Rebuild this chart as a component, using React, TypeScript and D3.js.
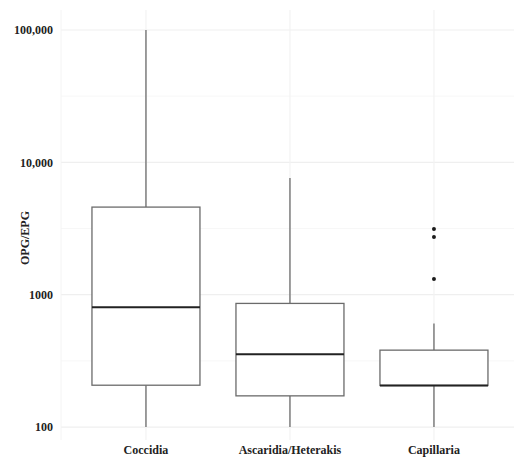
import { useRef, useEffect } from 'react';
import * as d3 from 'd3';

const categories = ['Coccidia', 'Ascaridia/Heterakis', 'Capillaria'];
const whiskerLow = [100, 100, 100];
const q1 = [207, 172, 206];
const medians = [802, 354, 206];
const q3 = [4590, 859, 381];
const whiskerHigh = [100000, 7610, 607];
const outliers = [[], [], [3130, 2725, 1312]];
const yTicks = [100, 1000, 10000, 100000];
const yTickLabels = ['100', '1000', '10,000', '100,000'];
const yMinor = [316.2, 3162, 31623];

export default function App() {
  const svgRef = useRef(null);
  const width = 514;
  const height = 457;

  useEffect(() => {
    const svg = d3.select(svgRef.current);
    svg.selectAll('*').remove();
    const margin = { top: 10, right: 0, bottom: 17, left: 61 };
    const font = '"Liberation Serif", "DejaVu Serif", serif';

    // discrete scale with ggplot-like 0.6 expansion on each side
    const step = 144;
    const x = d3
      .scalePoint()
      .domain(categories)
      .range([margin.left + step * 0.59, margin.left + step * 2.59]);
    const boxW = step * 0.75;

    const panelBottom = height - margin.bottom;
    const y = d3
      .scaleLog()
      .domain([Math.pow(10, 1.902), Math.pow(10, 5.151)])
      .range([panelBottom, margin.top]);

    // grid
    svg
      .append('g')
      .selectAll('line')
      .data(yMinor)
      .join('line')
      .attr('x1', margin.left)
      .attr('x2', width)
      .attr('y1', (d) => y(d))
      .attr('y2', (d) => y(d))
      .attr('stroke', '#f7f7f7')
      .attr('stroke-width', 1);

    svg
      .append('g')
      .selectAll('line')
      .data(yTicks)
      .join('line')
      .attr('x1', margin.left)
      .attr('x2', width)
      .attr('y1', (d) => y(d))
      .attr('y2', (d) => y(d))
      .attr('stroke', '#efefef')
      .attr('stroke-width', 1.2);

    svg
      .append('g')
      .selectAll('line')
      .data(categories)
      .join('line')
      .attr('x1', (d) => x(d))
      .attr('x2', (d) => x(d))
      .attr('y1', margin.top)
      .attr('y2', panelBottom)
      .attr('stroke', '#f2f2f2')
      .attr('stroke-width', 1.2);

    svg
      .append('line')
      .attr('x1', margin.left)
      .attr('x2', margin.left)
      .attr('y1', margin.top)
      .attr('y2', panelBottom)
      .attr('stroke', '#f4f4f4');

    // boxes
    const g = svg.append('g');
    categories.forEach((c, i) => {
      const xc = x(c);
      g.append('line')
        .attr('x1', xc)
        .attr('x2', xc)
        .attr('y1', y(q3[i]))
        .attr('y2', y(whiskerHigh[i]))
        .attr('stroke', '#6b6b6b')
        .attr('stroke-width', 1.3);
      g.append('line')
        .attr('x1', xc)
        .attr('x2', xc)
        .attr('y1', y(q1[i]))
        .attr('y2', y(whiskerLow[i]))
        .attr('stroke', '#6b6b6b')
        .attr('stroke-width', 1.3);
      g.append('rect')
        .attr('x', xc - boxW / 2)
        .attr('width', boxW)
        .attr('y', y(q3[i]))
        .attr('height', y(q1[i]) - y(q3[i]))
        .attr('fill', 'white')
        .attr('stroke', '#6b6b6b')
        .attr('stroke-width', 1.3);
      g.append('line')
        .attr('x1', xc - boxW / 2)
        .attr('x2', xc + boxW / 2)
        .attr('y1', y(medians[i]))
        .attr('y2', y(medians[i]))
        .attr('stroke', '#222')
        .attr('stroke-width', 2);
      g.selectAll(null)
        .data(outliers[i])
        .join('circle')
        .attr('cx', xc)
        .attr('cy', (d) => y(d))
        .attr('r', 2)
        .attr('fill', '#1a1a1a');
    });

    // y tick labels
    svg
      .append('g')
      .selectAll('text')
      .data(yTicks)
      .join('text')
      .attr('x', 53)
      .attr('y', (d) => y(d))
      .attr('dy', '0.35em')
      .attr('text-anchor', 'end')
      .style('font-family', font)
      .style('font-weight', 700)
      .style('font-size', '12px')
      .attr('fill', '#222')
      .text((d, i) => yTickLabels[i]);

    // x labels
    svg
      .append('g')
      .selectAll('text')
      .data(categories)
      .join('text')
      .attr('x', (d) => x(d))
      .attr('y', 454)
      .attr('text-anchor', 'middle')
      .style('font-family', font)
      .style('font-weight', 700)
      .style('font-size', '12px')
      .attr('fill', '#222')
      .text((d) => d);

    svg
      .append('text')
      .attr('transform', `translate(29,238) rotate(-90)`)
      .attr('text-anchor', 'middle')
      .style('font-family', font)
      .style('font-weight', 700)
      .style('font-size', '12px')
      .attr('fill', '#222')
      .text('OPG/EPG');
  }, []);

  return (
    <svg
      ref={svgRef}
      width={width}
      height={height}
      style={{ position: 'absolute', left: 0, top: 0, background: 'white' }}
    ></svg>
  );
}
